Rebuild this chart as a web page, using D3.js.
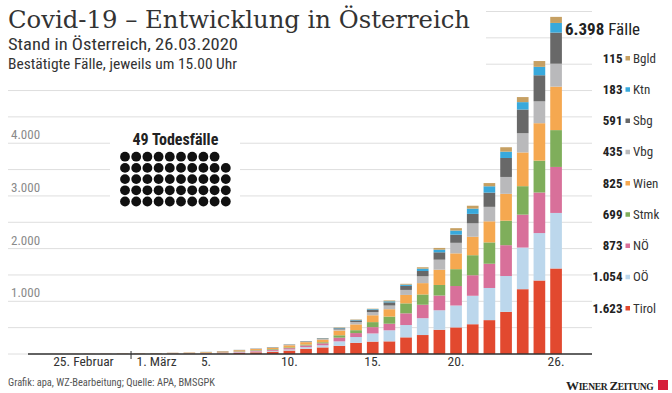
<!DOCTYPE html>
<html>
<head>
<meta charset="utf-8">
<script src="https://cdn.jsdelivr.net/npm/d3@7"></script>
<style>
    body { margin: 0; background: #fff; }
    svg { display: block; }
    text { font-family: "Roboto Condensed", "Liberation Sans Narrow", "DejaVu Sans Condensed", Roboto, sans-serif; }
</style>
</head>
<body>
<svg id="chart"></svg>
<script>
var width = 672, height = 393;

// one entry per day, 15.00 Uhr
var dates = [
    "2020-02-25", "2020-02-26", "2020-02-27", "2020-02-28", "2020-02-29",
    "2020-03-01", "2020-03-02", "2020-03-03", "2020-03-04", "2020-03-05",
    "2020-03-06", "2020-03-07", "2020-03-08", "2020-03-09", "2020-03-10",
    "2020-03-11", "2020-03-12", "2020-03-13", "2020-03-14", "2020-03-15",
    "2020-03-16", "2020-03-17", "2020-03-18", "2020-03-19", "2020-03-20",
    "2020-03-21", "2020-03-22", "2020-03-23", "2020-03-24", "2020-03-25",
    "2020-03-26"
];

var tirol = [2, 2, 2, 2, 2, 2, 2, 3, 4, 6, 11, 20, 33, 45, 66, 100, 125, 155, 212, 235, 240, 316, 360, 460, 505, 565, 643, 800, 1230, 1395, 1623];
var ooe   = [0, 0, 0, 0, 0, 0, 3, 3, 4, 6, 8, 10, 12, 15, 20, 30, 40, 85, 110, 155, 210, 234, 320, 370, 415, 540, 610, 680, 790, 900, 1054];
var noe   = [0, 0, 0, 1, 1, 1, 3, 5, 5, 8, 10, 14, 18, 22, 25, 32, 38, 70, 75, 120, 125, 222, 255, 280, 370, 390, 460, 585, 625, 770, 873];
var stmk  = [0, 0, 0, 0, 0, 0, 2, 3, 3, 4, 5, 8, 10, 12, 15, 18, 20, 45, 55, 95, 135, 189, 195, 200, 320, 380, 405, 465, 540, 605, 699];
var wien  = [0, 0, 1, 2, 5, 6, 7, 8, 10, 12, 14, 19, 21, 25, 40, 45, 50, 90, 110, 130, 140, 160, 215, 290, 300, 350, 400, 510, 640, 710, 825];
var vbg   = [0, 0, 0, 0, 0, 0, 0, 0, 1, 1, 1, 2, 3, 3, 5, 8, 10, 20, 45, 60, 70, 95, 130, 190, 200, 255, 275, 320, 365, 415, 435];
var sbg   = [0, 0, 0, 0, 1, 1, 1, 2, 2, 3, 4, 4, 5, 6, 7, 9, 12, 22, 30, 45, 60, 76, 100, 140, 155, 179, 270, 360, 450, 495, 591];
var ktn   = [0, 0, 0, 0, 0, 0, 0, 0, 0, 1, 1, 1, 1, 2, 2, 2, 4, 9, 10, 12, 20, 24, 45, 50, 78, 100, 120, 120, 140, 160, 183];
var bgld  = [0, 0, 0, 0, 0, 0, 0, 0, 0, 0, 1, 1, 1, 1, 2, 2, 3, 8, 8, 8, 16, 16, 26, 33, 45, 55, 61, 84, 96, 110, 115];

// stacking order, bottom to top
var states = ["Tirol", "OÖ", "NÖ", "Stmk", "Wien", "Vbg", "Sbg", "Ktn", "Bgld"];
var series = [tirol, ooe, noe, stmk, wien, vbg, sbg, ktn, bgld];
var colors = ["#e2492f", "#bcd7ec", "#d8709a", "#7fae5b", "#f5a850", "#b9b9bb", "#686868", "#38a9dc", "#c6a063"];

var yLabels = [1000, 2000, 3000, 4000];
var xTicks = ["2020-02-25", "2020-03-01", "2020-03-05", "2020-03-10", "2020-03-15", "2020-03-20", "2020-03-26"];
var xTickLabels = ["25. Februar", "1. März", "5.", "10.", "15.", "20.", "26."];

var deaths = 49;

var de = d3.formatLocale({decimal: ",", thousands: ".", grouping: [3], currency: ["", " €"]});
var fmt = de.format(",d");

var rows = dates.map(function(d, i) {
    var o = {date: d};
    states.forEach(function(s, j) { o[s] = series[j][i]; });
    return o;
});

var stack = d3.stack().keys(states)(rows);

var x = d3.scaleBand()
    .domain(dates)
    .range([47.7, 564.4])
    .paddingInner(0.3)
    .paddingOuter(0.15);

var y = d3.scaleLinear()
    .domain([0, 6500])
    .range([354, 11.5]);

var svg = d3.select("#chart")
    .attr("width", width)
    .attr("height", height);

// grid
svg.append("g")
    .selectAll("line")
    .data(d3.range(0, 6501, 500))
    .enter()
    .append("line")
        .attr("x1", 8)
        .attr("x2", 592)
        .attr("y1", d => y(d))
        .attr("y2", d => y(d))
        .attr("stroke", "#dedede")
        .attr("stroke-width", 1);

// white block behind the heading
svg.append("rect")
    .attr("x", 0).attr("y", 0)
    .attr("width", 486).attr("height", 78)
    .attr("fill", "#fff");

svg.append("g")
    .selectAll("text")
    .data(yLabels)
    .enter()
    .append("text")
        .attr("x", 11)
        .attr("y", d => y(d) - 4)
        .attr("font-size", 13)
        .attr("fill", "#8a8a8a")
        .text(d => fmt(d));

// bars
svg.append("g")
    .selectAll("g")
    .data(stack)
    .enter()
    .append("g")
        .attr("fill", (d, i) => colors[i])
    .selectAll("rect")
    .data(d => d)
    .enter()
    .append("rect")
        .attr("x", d => x(d.data.date))
        .attr("y", d => y(d[1]))
        .attr("width", x.bandwidth())
        .attr("height", d => y(d[0]) - y(d[1]));

// baseline
svg.append("line")
    .attr("x1", 28).attr("x2", 592)
    .attr("y1", y(0)).attr("y2", y(0))
    .attr("stroke", "#333")
    .attr("stroke-width", 1.5);

// Feb / März separator
var sep = x("2020-03-01") - x.step() * x.paddingInner() / 2;
svg.append("line")
    .attr("x1", sep).attr("x2", sep)
    .attr("y1", y(0) - 3).attr("y2", y(0) + 5)
    .attr("stroke", "#333")
    .attr("stroke-width", 1);

svg.append("g")
    .selectAll("text")
    .data(xTicks)
    .enter()
    .append("text")
        .attr("x", (d, i) => i < 2 ? x(d) + 3 : x(d) + x.bandwidth() / 2)
        .attr("y", 366)
        .attr("text-anchor", (d, i) => i < 2 ? "start" : "middle")
        .attr("font-size", 13.5)
        .attr("fill", "#333")
        .text((d, i) => xTickLabels[i]);

// deaths box
var dotStep = 11.2, dotR = 4.9, dotX = 125, dotY = 156.7;

svg.append("rect")
    .attr("x", 110).attr("y", 126)
    .attr("width", 130).attr("height", 86)
    .attr("fill", "#fff");

svg.append("text")
    .attr("x", dotX + dotStep * 4.5)
    .attr("y", 145)
    .attr("text-anchor", "middle")
    .attr("font-size", 16)
    .attr("font-weight", "bold")
    .attr("fill", "#222")
    .text(deaths + " Todesfälle");

svg.append("g")
    .selectAll("circle")
    .data(d3.range(deaths))
    .enter()
    .append("circle")
        .attr("cx", k => dotX + (k % 10) * dotStep)
        .attr("cy", k => dotY + (4 - Math.floor(k / 10)) * dotStep)
        .attr("r", dotR)
        .attr("fill", "#111");

// legend
var total = d3.sum(series, s => s[s.length - 1]);

var total_label = svg.append("text")
    .attr("x", 565)
    .attr("y", 35)
    .attr("font-size", 17)
    .attr("fill", "#222");
total_label.append("tspan")
    .attr("font-weight", "bold")
    .text(fmt(total));
total_label.append("tspan")
    .text(" Fälle");

var ly = d3.scalePoint()
    .domain(states.slice().reverse())
    .range([58, 308]);

var legend = svg.append("g")
    .selectAll("g")
    .data(states)
    .enter()
    .append("g")
        .attr("transform", s => `translate(0,${ly(s)})`);

legend.append("text")
    .attr("x", 622.5)
    .attr("y", 4.5)
    .attr("text-anchor", "end")
    .attr("font-size", 13)
    .attr("font-weight", "bold")
    .attr("fill", "#222")
    .text((s, i) => fmt(series[i][series[i].length - 1]));

legend.append("rect")
    .attr("x", 625.5)
    .attr("y", -2)
    .attr("width", 4.5)
    .attr("height", 4.5)
    .attr("fill", (s, i) => colors[i]);

legend.append("text")
    .attr("x", 633)
    .attr("y", 4.5)
    .attr("font-size", 13)
    .attr("fill", "#333")
    .text(s => s);

// heading (style, so the css rule for text does not win)
svg.append("text")
    .attr("x", 8)
    .attr("y", 28)
    .style("font-family", "'DejaVu Serif', 'Liberation Serif', serif")
    .attr("font-size", 24)
    .attr("fill", "#333")
    .attr("textLength", 462)
    .attr("lengthAdjust", "spacingAndGlyphs")
    .text("Covid-19 – Entwicklung in Österreich");

svg.append("text")
    .attr("x", 8)
    .attr("y", 50)
    .attr("font-size", 17)
    .attr("fill", "#333")
    .attr("textLength", 230)
    .attr("lengthAdjust", "spacingAndGlyphs")
    .text("Stand in Österreich, 26.03.2020");

svg.append("text")
    .attr("x", 8)
    .attr("y", 69)
    .attr("font-size", 14)
    .attr("fill", "#333")
    .attr("textLength", 229)
    .attr("lengthAdjust", "spacingAndGlyphs")
    .text("Bestätigte Fälle, jeweils um 15.00 Uhr");

// footer
svg.append("text")
    .attr("x", 8)
    .attr("y", 386)
    .attr("font-size", 11)
    .attr("fill", "#555")
    .attr("textLength", 207)
    .attr("lengthAdjust", "spacingAndGlyphs")
    .text("Grafik: apa, WZ-Bearbeitung; Quelle: APA, BMSGPK");

// logo, small caps by hand
var logo = svg.append("text")
    .attr("x", 566)
    .attr("y", 390)
    .style("font-family", "'Liberation Serif', 'DejaVu Serif', serif")
    .style("letter-spacing", "-0.3px")
    .attr("font-weight", "bold")
    .attr("fill", "#222");
logo.append("tspan").attr("font-size", 13).text("W");
logo.append("tspan").attr("font-size", 9.5).text("IENER ");
logo.append("tspan").attr("font-size", 13).text("Z");
logo.append("tspan").attr("font-size", 9.5).text("EITUNG");

svg.append("rect")
    .attr("x", 658).attr("y", 380)
    .attr("width", 10).attr("height", 10)
    .attr("fill", "#d61f3b");
</script>
</body>
</html>
